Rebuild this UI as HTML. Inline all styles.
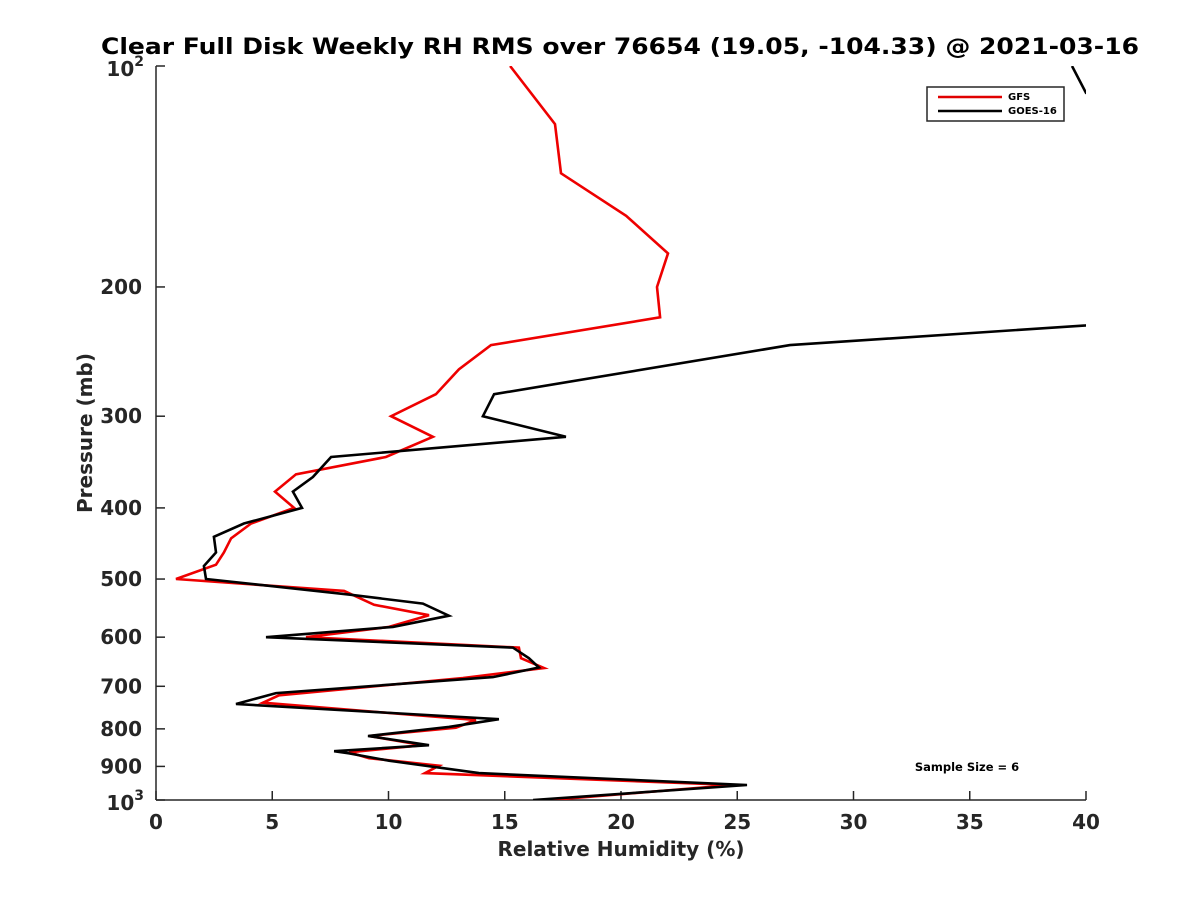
<!DOCTYPE html>
<html><head><meta charset="utf-8"><style>
body{margin:0;background:#fff;}
svg{display:block;font-family:"DejaVu Sans","Liberation Sans",sans-serif;font-weight:bold;}
</style></head><body>
<svg id="chart" width="1200" height="900" viewBox="0 0 1200 900">
<defs><clipPath id="plotclip"><rect x="156" y="66" width="930" height="734"/></clipPath></defs>
<rect width="1200" height="900" fill="#fff"/>
<text x="620" y="54" text-anchor="middle" font-size="22" textLength="1038" lengthAdjust="spacingAndGlyphs" fill="#000">Clear Full Disk Weekly RH RMS over 76654 (19.05, -104.33) @ 2021-03-16</text>
<g id="axes"></g>
<g id="series" clip-path="url(#plotclip)"></g>
<text x="621" y="856" text-anchor="middle" font-size="20" fill="#262626">Relative Humidity (%)</text>
<text transform="translate(92,433) rotate(-90)" text-anchor="middle" font-size="20" fill="#262626">Pressure (mb)</text>
<g>
<rect x="927" y="87" width="137" height="34" fill="#fff" stroke="#262626" stroke-width="1.5"/>
<line x1="938" y1="97" x2="1002" y2="97" stroke="#e00000" stroke-width="2.5"/>
<text x="1008" y="100" font-size="10" fill="#000">GFS</text>
<line x1="938" y1="111" x2="1002" y2="111" stroke="#000" stroke-width="2.5"/>
<text x="1008" y="114" font-size="10" fill="#000">GOES-16</text>
</g>
<text x="967" y="771" text-anchor="middle" font-size="11.5" fill="#000">Sample Size = 6</text>
</svg>
<script>
const gfsPressure=[100,120,140,160,180,200,220,240,259,280,300,320,341,360,380,400,420,440,460,478,500,519,542,560,581,600,620,641,661,682,720,737,778,797,818,842,861,877,898,919,954,1000];
const gfsRH=[15.23,17.16,17.42,20.22,22.02,21.55,21.68,14.41,13.03,12.04,10.11,11.91,9.89,6.02,5.12,5.94,4.09,3.23,2.92,2.58,0.86,8.09,9.38,11.74,10.02,6.45,15.61,15.70,16.69,13.20,5.29,4.60,13.76,12.90,9.16,11.48,8.30,9.16,12.17,11.57,24.82,16.95];
const goesPressure=[100,108.8,120,140,160,180,200,225.6,240,280,300,320,341,363,380,400,420,438,460,480,500,525,540,561,581,600,620,641,660,680,715,740,776,795,818,842,858,864,884,919,954,1000];
const goesRH=[39.4,40,43,46,48,47,44,40,27.27,14.54,14.06,17.63,7.53,6.75,5.89,6.28,3.78,2.49,2.58,2.06,2.15,8.30,11.48,12.60,10.19,4.73,15.35,16.04,16.47,14.49,5.16,3.44,14.75,12.60,9.12,11.74,7.66,8.30,10.02,13.89,25.42,16.22];
const xTicks=[0,5,10,15,20,25,30,35,40];
const yTicks=[200,300,400,500,600,700,800,900];

const NS="http://www.w3.org/2000/svg";
const X0=156,X1=1086,Y0=66,Y1=800;
const xs=v=>X0+(v-0)/40*(X1-X0);
const ys=p=>Y0+(Math.log10(p)-2)*(Y1-Y0);
function mk(tag,attrs,parent){const e=document.createElementNS(NS,tag);for(const k in attrs)e.setAttribute(k,attrs[k]);parent.appendChild(e);return e;}
const axes=document.getElementById('axes');
const series=document.getElementById('series');
const AX="#262626";
let l=mk('line',{x1:X0,y1:Y0,x2:X0,y2:Y1,stroke:AX,'stroke-width':1.5},axes);


l=mk('line',{x1:X0,y1:Y1,x2:X1,y2:Y1,stroke:AX,'stroke-width':1.5},axes);


xTicks.forEach(v=>{
  const x=xs(v);
  const t=mk('line',{x1:x,y1:Y1,x2:x,y2:Y1-9,stroke:AX,'stroke-width':1.5},axes);
  
  
  const tx=mk('text',{x:x,y:Y1+29,'text-anchor':'middle','font-size':20,fill:AX},axes);
  tx.textContent=v;
  
  
});
[100].concat(yTicks).concat([1000]).forEach(p=>{
  const y=ys(p);
  const t=mk('line',{x1:X0,y1:y,x2:X0+9,y2:y,stroke:AX,'stroke-width':1.5},axes);
  
  
  const tx=mk('text',{x:X0-14,y:y+7,'text-anchor':'end','font-size':20,fill:AX},axes);
  if(p===100||p===1000){
    tx.textContent='10';
    const s=mk('tspan',{dy:-10,'font-size':14},tx);
    s.textContent=p===100?'2':'3';
    tx.setAttribute('x',X0-12);
    tx.setAttribute('y',y+10);
  } else tx.textContent=p;
  
  
});
function drawLine(P,V,color,name){
  const pts=P.map((p,i)=>xs(V[i]).toFixed(1)+','+ys(p).toFixed(1)).join(' ');
  const pl=mk('polyline',{points:pts,fill:'none',stroke:color,'stroke-width':2.6,'stroke-linejoin':'miter'},series);
  
  
}
drawLine(gfsPressure,gfsRH,'#ee0000','gfs-line');
drawLine(goesPressure,goesRH,'#000000','goes16-line');
</script>
</body></html>
